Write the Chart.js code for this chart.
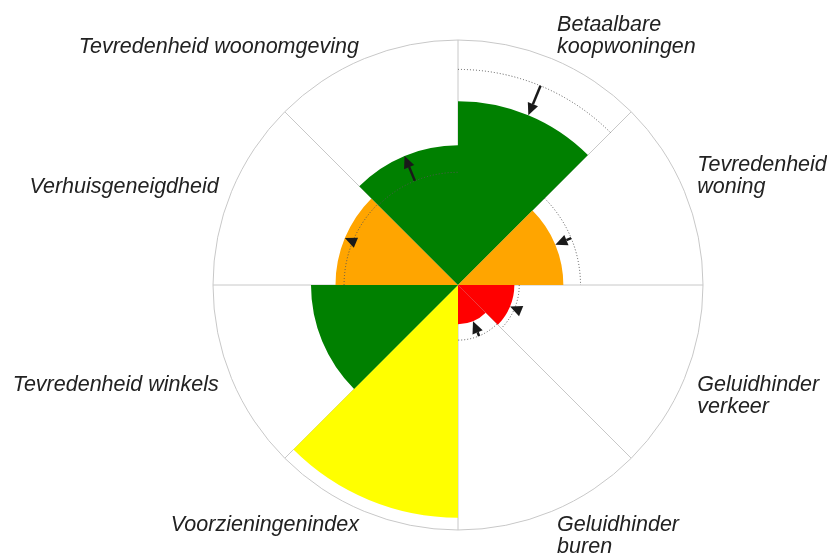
<!DOCTYPE html>
<html>
<head>
<meta charset="utf-8">
<script src="https://cdn.jsdelivr.net/npm/chart.js@4"></script>
<style>
  html, body { margin: 0; padding: 0; background: #fff; }
  #wrap { width: 827px; height: 558px; }
</style>
</head>
<body>
<div id="wrap"><canvas id="polarChart" width="827" height="558"></canvas></div>
<script>
// labels per segment (clockwise from the top), multi-line ones as arrays
const labels = [
  ["Betaalbare", "koopwoningen"],
  ["Tevredenheid", "woning"],
  ["Geluidhinder", "verkeer"],
  ["Geluidhinder", "buren"],
  ["Voorzieningenindex"],
  ["Tevredenheid winkels"],
  ["Verhuisgeneigdheid"],
  ["Tevredenheid woonomgeving"]
];
const scores = [75, 43, 23, 16, 95, 60, 50, 57];
// reference (dotted arc), null = none
const referenceScores = [88, 50, 25, 22.5, null, null, 46.5, 46];
const segmentColors = ["#008000", "#ffa500", "#ff0000", "#ff0000", "#ffff00", "#008000", "#ffa500", "#008000"];
const scaleMax = 100;

const gridColor = "#c8c8c8";
const arrowColor = "#1a1a1a";
const labelFont = 'italic 21.5px "Liberation Sans", Arial, sans-serif';
const labelLineHeight = 22;

// dotted reference arcs, arrows and the outer labels
const overlayPlugin = {
  id: "overlay",
  afterDatasetsDraw(chart) {
    const ctx = chart.ctx;
    const scale = chart.scales.r;
    const cx = scale.xCenter;
    const cy = scale.yCenter;
    const arcs = chart.getDatasetMeta(0).data;

    ctx.save();
    arcs.forEach((arc, i) => {
      const ref = referenceScores[i];
      if (ref === null) return;
      const rRef = scale.getDistanceFromCenterForValue(ref);
      const rVal = scale.getDistanceFromCenterForValue(scores[i]);

      ctx.beginPath();
      ctx.setLineDash([1, 2]);
      ctx.lineWidth = 1;
      ctx.strokeStyle = "#555";
      ctx.arc(cx, cy, rRef, arc.startAngle, arc.endAngle);
      ctx.stroke();
      ctx.setLineDash([]);

      const mid = (arc.startAngle + arc.endAngle) / 2;
      const ux = Math.cos(mid);
      const uy = Math.sin(mid);
      const dir = rVal > rRef ? 1 : -1;
      const headLen = 12;
      const headW = 5.5;
      const baseR = rVal - dir * headLen;

      if (Math.abs(rRef - rVal) > headLen) {
        ctx.beginPath();
        ctx.lineWidth = 2.5;
        ctx.strokeStyle = arrowColor;
        ctx.moveTo(cx + ux * rRef, cy + uy * rRef);
        ctx.lineTo(cx + ux * baseR, cy + uy * baseR);
        ctx.stroke();
      }
      const bx = cx + ux * baseR;
      const by = cy + uy * baseR;
      ctx.beginPath();
      ctx.moveTo(cx + ux * rVal, cy + uy * rVal);
      ctx.lineTo(bx - uy * headW, by + ux * headW);
      ctx.lineTo(bx + uy * headW, by - ux * headW);
      ctx.closePath();
      ctx.fillStyle = arrowColor;
      ctx.fill();
    });

    // labels just outside the circle, at the middle of each segment
    ctx.font = labelFont;
    ctx.fillStyle = "#222";
    ctx.textBaseline = "middle";
    const R = scale.drawingArea + 14;
    arcs.forEach((arc, i) => {
      const mid = (arc.startAngle + arc.endAngle) / 2;
      const ax = cx + Math.cos(mid) * R;
      const ay = cy + Math.sin(mid) * R;
      const lines = labels[i];
      const n = lines.length;
      ctx.textAlign = Math.cos(mid) >= 0 ? "left" : "right";
      lines.forEach((line, j) => {
        const y = Math.sin(mid) < 0 ? ay - (n - 1 - j) * labelLineHeight : ay + j * labelLineHeight;
        ctx.fillText(line, ax, y + 1);
      });
    });
    ctx.restore();
  }
};

const ctx = document.getElementById("polarChart").getContext("2d");
new Chart(ctx, {
  type: "polarArea",
  data: {
    labels: labels.map((l) => l.join(" ")),
    datasets: [
      {
        data: scores,
        backgroundColor: segmentColors,
        borderWidth: 0
      }
    ]
  },
  options: {
    responsive: false,
    animation: false,
    devicePixelRatio: 1,
    layout: { padding: { left: 213, right: 124, top: 40, bottom: 28 } },
    plugins: {
      legend: { display: false },
      tooltip: { enabled: false }
    },
    scales: {
      r: {
        min: 0,
        max: scaleMax,
        ticks: { display: false, stepSize: scaleMax },
        grid: { color: gridColor, lineWidth: 1 },
        angleLines: { display: true, color: gridColor, lineWidth: 1 },
        pointLabels: { display: false }
      }
    }
  },
  plugins: [overlayPlugin]
});
</script>
</body>
</html>
